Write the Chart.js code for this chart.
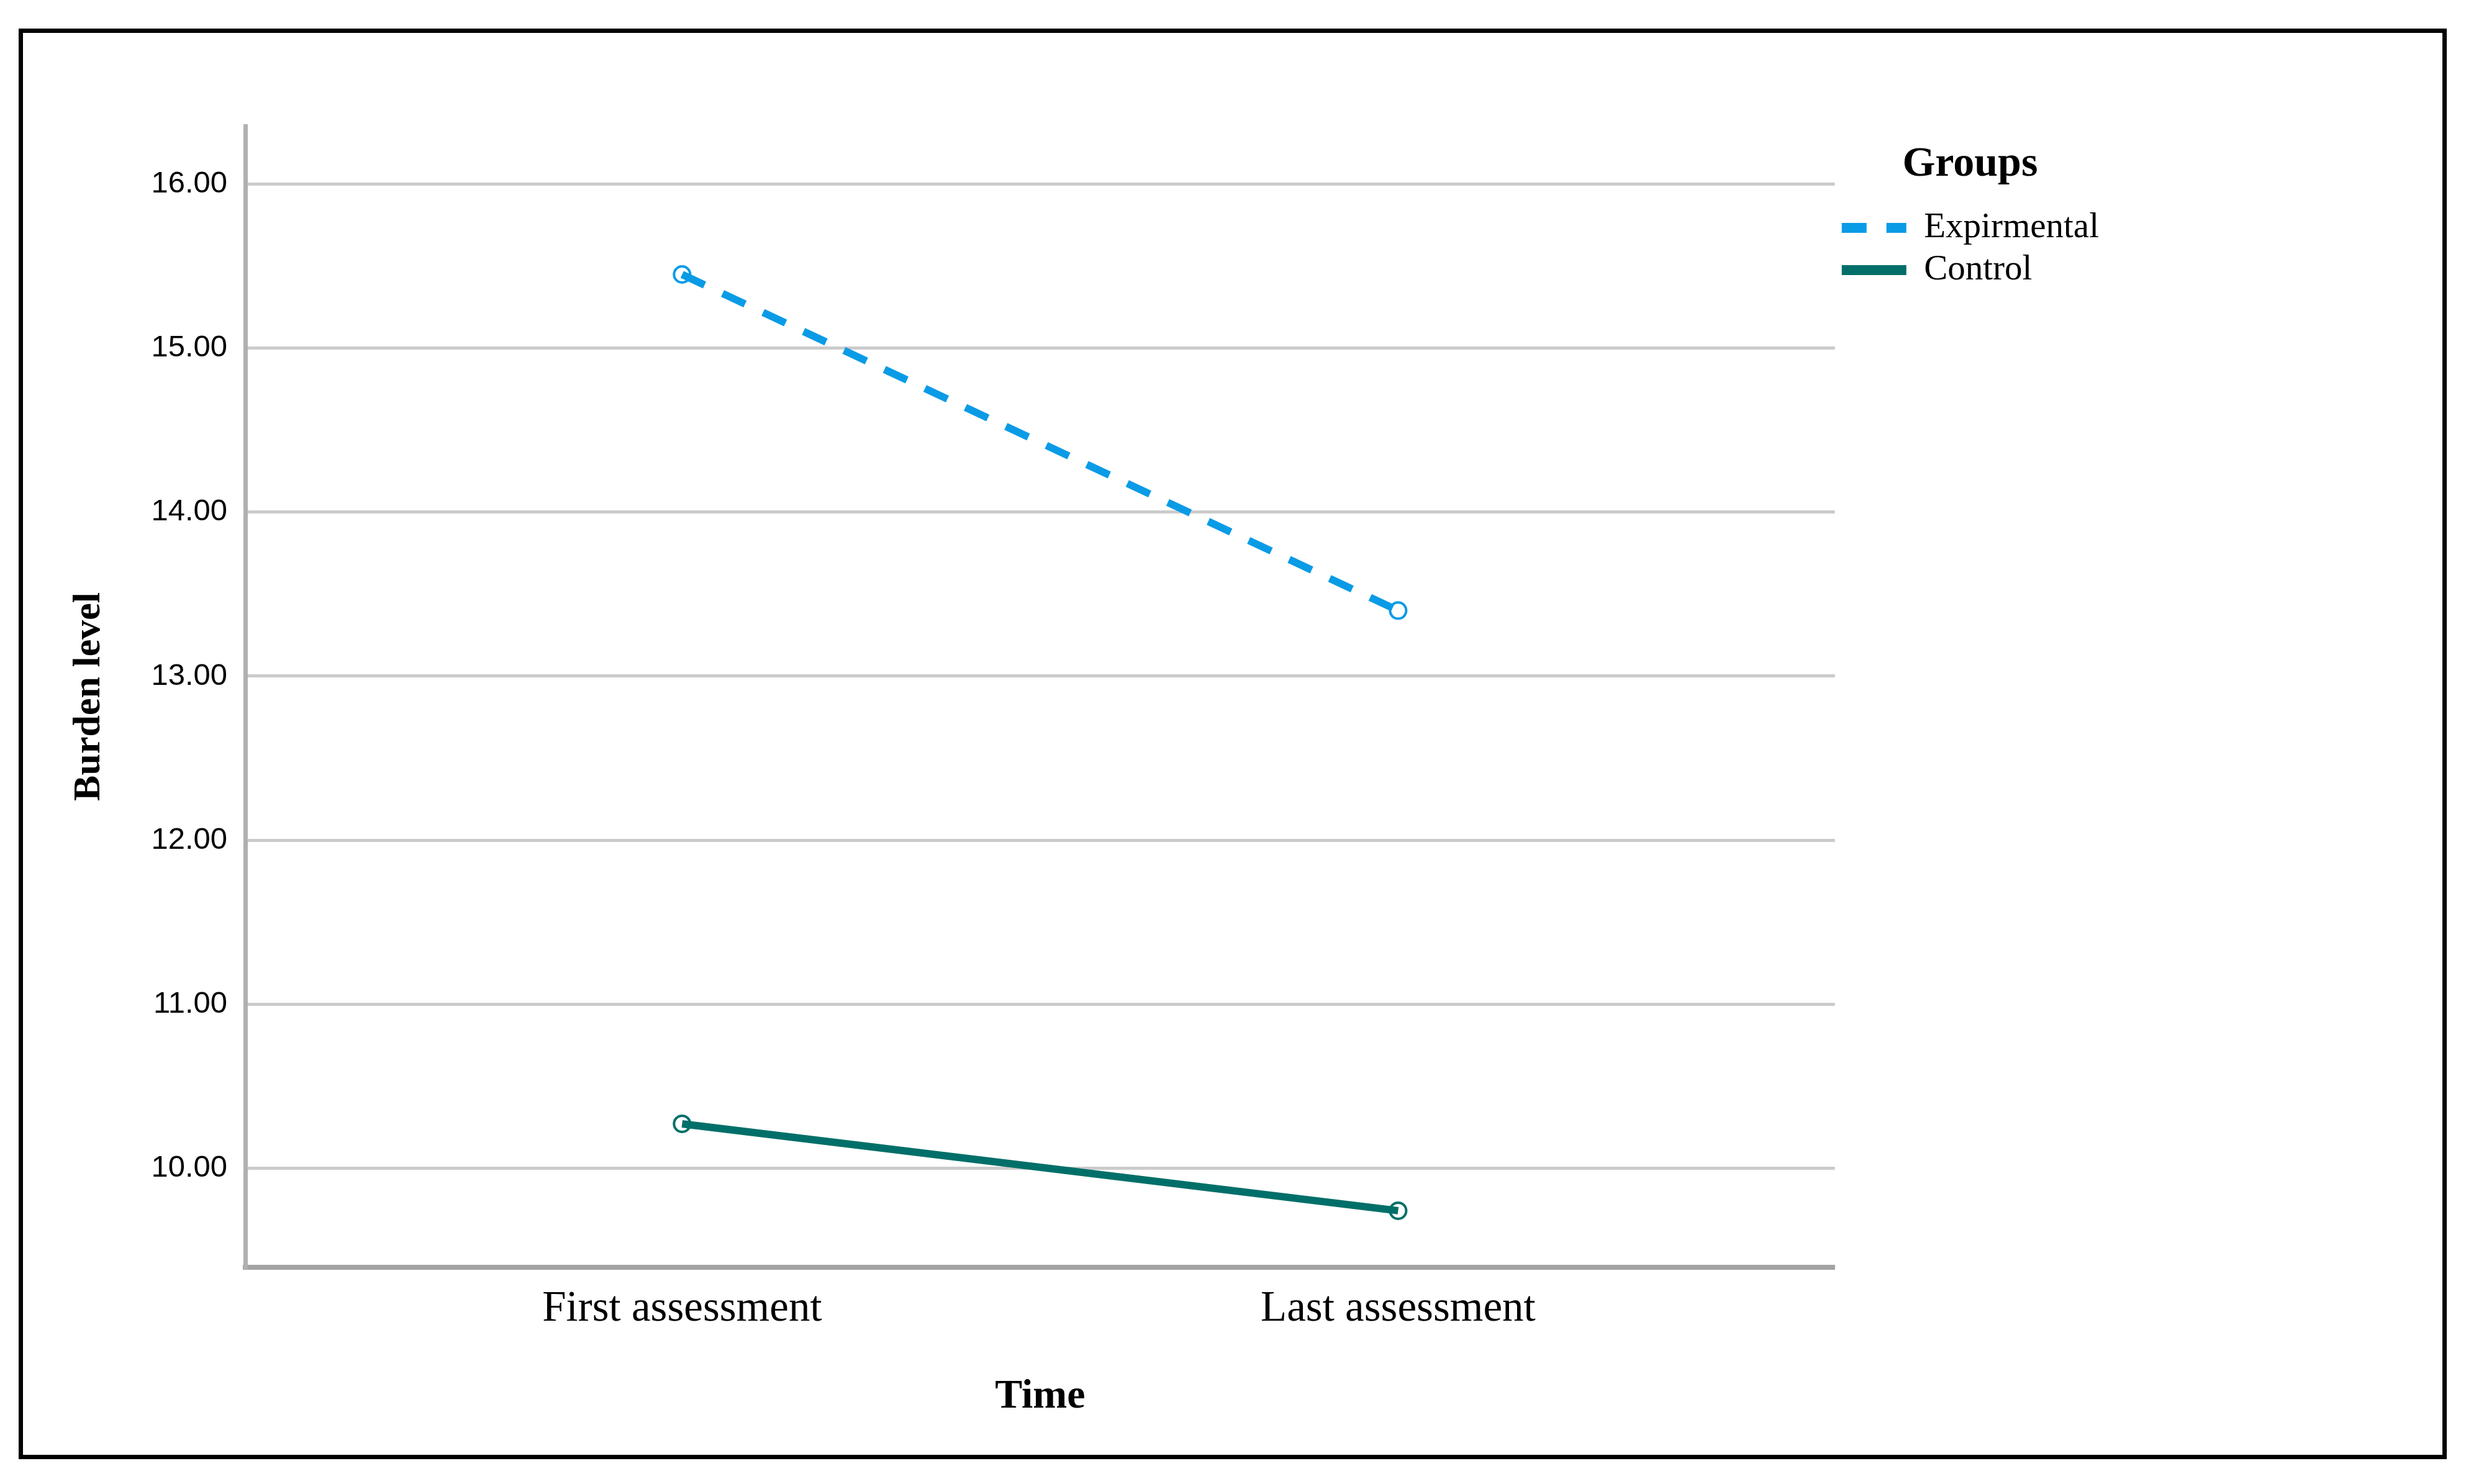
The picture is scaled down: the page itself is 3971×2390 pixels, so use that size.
<!DOCTYPE html>
<html>
<head>
<meta charset="utf-8">
<script src="https://cdn.jsdelivr.net/npm/chart.js@4.4.1/dist/chart.umd.min.js"></script>
<style>
html,body{margin:0;padding:0;background:#fff;width:3971px;height:2390px;overflow:hidden;}
#frame{position:absolute;left:30px;top:46px;width:3896px;height:2290px;border:7px solid #000;background:#fff;}
#c{display:block;width:3896px;height:2290px;}
</style>
</head>
<body>
<div id="frame"><canvas id="c" width="3896" height="2290"></canvas></div>
<script>
// ---- data ----
const categories = ['First assessment', 'Last assessment'];
const groupNames = ['Expirmental', 'Control'];
const experimentalValues = [15.45, 13.40];
const controlValues = [10.27, 9.74];
const yTickValues = [10, 11, 12, 13, 14, 15, 16];
const legendTitle = 'Groups';
const xTitle = 'Time';
const yTitle = 'Burden level';

const expColor = '#0a9be6';
const ctlColor = '#006f69';
const expDash = [40, 32];

function toPoints(values) {
  return categories.map((c, i) => ({ x: i, y: values[i] }));
}

const serif = "'Liberation Serif', 'Times New Roman', serif";
const sans = "'Liberation Sans', Arial, sans-serif";

new Chart(document.getElementById('c'), {
  type: 'line',
  data: {
    datasets: [
      {
        label: groupNames[0],
        data: toPoints(experimentalValues),
        borderColor: expColor,
        backgroundColor: 'rgba(0,0,0,0)',
        borderWidth: 12,
        borderDash: expDash,
        borderCapStyle: 'butt',
        pointRadius: 13,
        pointBorderWidth: 4,
        pointBorderColor: expColor,
        pointBackgroundColor: 'rgba(0,0,0,0)',
        fill: false,
        tension: 0
      },
      {
        label: groupNames[1],
        data: toPoints(controlValues),
        borderColor: ctlColor,
        backgroundColor: 'rgba(0,0,0,0)',
        borderWidth: 12,
        borderCapStyle: 'butt',
        pointRadius: 13,
        pointBorderWidth: 4,
        pointBorderColor: ctlColor,
        pointBackgroundColor: 'rgba(0,0,0,0)',
        fill: false,
        tension: 0
      }
    ]
  },
  options: {
    responsive: false,
    animation: false,
    events: [],
    devicePixelRatio: 1,
    layout: { padding: { top: 150, left: 0, right: 543, bottom: 53 } },
    plugins: {
      tooltip: { enabled: false },
      legend: {
        display: true,
        position: 'right',
        align: 'start',
        title: {
          display: true,
          text: legendTitle,
          color: '#000',
          font: { family: serif, size: 68, weight: 'bold' },
          padding: { top: 28, bottom: 15 }
        },
        labels: {
          usePointStyle: true,
          pointStyle: 'line',
          pointStyleWidth: 104,
          boxHeight: 57,
          padding: 11,
          color: '#000',
          font: { family: serif, size: 57 },
          generateLabels: (chart) =>
            Chart.defaults.plugins.legend.labels.generateLabels(chart).map((l, i) => {
              const ds = chart.data.datasets[i];
              return Object.assign(l, {
                lineWidth: 16,
                lineDash: ds.borderDash || [],
                lineCap: 'butt',
                strokeStyle: ds.borderColor
              });
            })
        }
      }
    },
    scales: {
      x: {
        type: 'linear',
        min: -0.61,
        max: 1.61,
        afterBuildTicks: (scale) => { scale.ticks = categories.map((c, i) => ({ value: i })); },
        ticks: {
          callback: (v) => categories[v] !== undefined ? categories[v] : '',
          color: '#000',
          font: { family: serif, size: 69 },
          padding: 18,
          maxRotation: 0,
          autoSkip: false
        },
        grid: { display: false, lineWidth: 1 },
        border: { display: true, color: '#a3a3a3', width: 8 },
        title: {
          display: true,
          text: xTitle,
          color: '#000',
          font: { family: serif, size: 66, weight: 'bold' },
          padding: { top: 43, bottom: 0 }
        }
      },
      y: {
        type: 'linear',
        min: 9.395,
        max: 16.355,
        afterBuildTicks: (scale) => { scale.ticks = yTickValues.map(v => ({ value: v })); },
        ticks: {
          callback: (v) => Number(v).toFixed(2),
          color: '#000',
          font: { family: sans, size: 49 },
          padding: 29
        },
        grid: { display: true, drawTicks: false, color: '#cbcbcb', lineWidth: 5 },
        border: { display: true, color: '#b0b0b0', width: 7 },
        title: {
          display: true,
          text: yTitle,
          color: '#000',
          font: { family: serif, size: 62, weight: 'bold' },
          padding: { top: 70, bottom: 33 }
        }
      }
    }
  }
});
</script>
</body>
</html>
